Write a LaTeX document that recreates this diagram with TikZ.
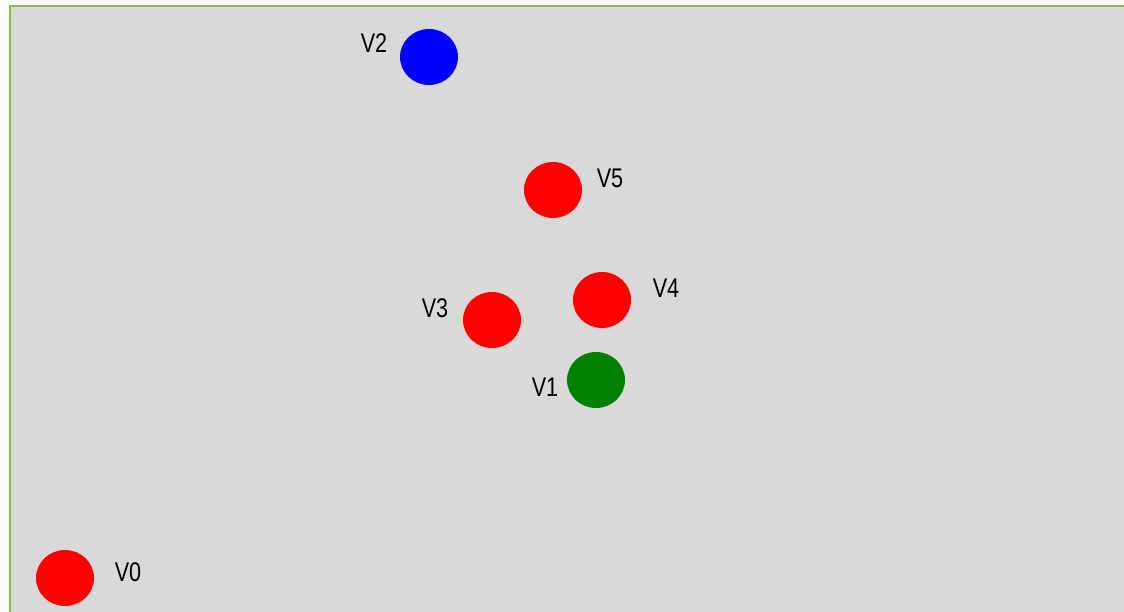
\documentclass[tikz,border=0pt]{standalone}
\usepackage{fontspec}
\setmainfont{Liberation Sans}
\usetikzlibrary{shapes.geometric}
\definecolor{bggray}{RGB}{217,217,217}
\definecolor{frame}{RGB}{140,190,70}
\definecolor{vred}{RGB}{255,0,0}
\definecolor{vblue}{RGB}{0,0,255}
\definecolor{vgreen}{RGB}{0,128,0}
\begin{document}
\begin{tikzpicture}[x=1pt,y=-1pt,
  vert/.style={ellipse,minimum width=58pt,minimum height=56pt,inner sep=0pt},
  lbl/.style={inner sep=0pt,font=\fontsize{27}{27}\selectfont,xscale=0.8}]
\useasboundingbox (0,0) rectangle (1124,611);
\path[fill=bggray,draw=frame,line width=1.4pt] (10,6) rectangle (1130,620);
\node[vert,fill=vblue] (v2) at (429,57) {};
\node[vert,fill=vred] (v5) at (553,190) {};
\node[vert,fill=vred] (v4) at (602,300) {};
\node[vert,fill=vred] (v3) at (492,320) {};
\node[vert,fill=vgreen] (v1) at (596,380) {};
\node[vert,fill=vred] (v0) at (65,578) {};
\node[lbl] (l2) at (374,43) {V2};
\node[lbl] (l5) at (610,178) {V5};
\node[lbl] (l4) at (666,288) {V4};
\node[lbl] (l3) at (435,308) {V3};
\node[lbl] (l1) at (545,387) {V1};
\node[lbl] (l0) at (128,572) {V0};
\end{tikzpicture}
\end{document}
